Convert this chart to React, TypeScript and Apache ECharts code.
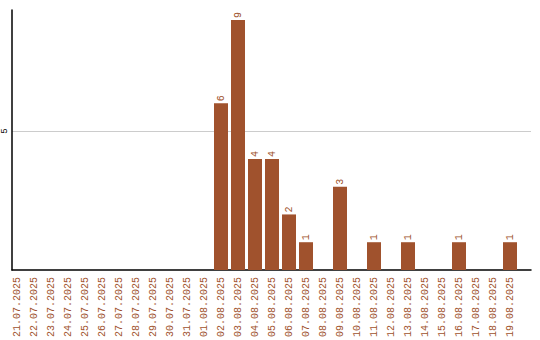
import React, { useEffect, useRef } from "react";
import * as echarts from "echarts";

const categories = [
  "21.07.2025", "22.07.2025", "23.07.2025", "24.07.2025", "25.07.2025",
  "26.07.2025", "27.07.2025", "28.07.2025", "29.07.2025", "30.07.2025",
  "31.07.2025", "01.08.2025", "02.08.2025", "03.08.2025", "04.08.2025",
  "05.08.2025", "06.08.2025", "07.08.2025", "08.08.2025", "09.08.2025",
  "10.08.2025", "11.08.2025", "12.08.2025", "13.08.2025", "14.08.2025",
  "15.08.2025", "16.08.2025", "17.08.2025", "18.08.2025", "19.08.2025",
];
const values = [
  0, 0, 0, 0, 0, 0, 0, 0, 0, 0,
  0, 0, 6, 9, 4, 4, 2, 1, 0, 3,
  0, 1, 0, 1, 0, 0, 1, 0, 0, 1,
];
const yMax = 9.36;
const yTickLabels = [5];

const BROWN = "#a0522d";
const MONO = "'Liberation Mono', monospace";

export default function App() {
  const ref = useRef<HTMLDivElement>(null);
  useEffect(() => {
    if (!ref.current) return;
    const chart = echarts.init(ref.current, null, { renderer: "svg" });
    chart.setOption({
      animation: false,
      backgroundColor: "#ffffff",
      grid: [
        { left: 8.5, right: 21.5, top: 10, bottom: 70 },
        { left: 11, right: 9, top: 10, bottom: 70 },
      ],
      xAxis: [
        {
          type: "category",
          gridIndex: 0,
          data: categories,
          axisLine: { show: false },
          axisTick: { show: false },
          axisLabel: {
            interval: 0,
            rotate: 90,
            margin: 7,
            fontSize: 10,
            fontFamily: MONO,
            color: BROWN,
          },
        },
        {
          type: "value",
          gridIndex: 1,
          min: 0,
          max: 1,
          axisLine: { show: true, onZero: false, lineStyle: { color: "#000", width: 1.5 } },
          axisTick: { show: false },
          axisLabel: { show: false },
          splitLine: { show: false },
        },
      ],
      yAxis: [
        {
          type: "value",
          gridIndex: 0,
          min: 0,
          max: yMax,
          show: false,
          splitLine: { show: false },
        },
        {
          type: "value",
          gridIndex: 1,
          min: 0,
          max: yMax,
          interval: 5,
          axisLine: { show: true, lineStyle: { color: "#000", width: 1.5 } },
          axisTick: { show: false },
          axisLabel: {
            rotate: 90,
            margin: 3,
            fontSize: 9,
            fontFamily: MONO,
            color: "#000",
            formatter: (v: number) => (yTickLabels.includes(v) ? String(v) : ""),
          },
          splitLine: {
            show: true,
            showMinLine: false,
            showMaxLine: false,
            lineStyle: { color: "#cccccc", width: 1 },
          },
        },
      ],
      series: [
        {
          type: "bar",
          xAxisIndex: 0,
          yAxisIndex: 0,
          data: values,
          barWidth: 14,
          itemStyle: { color: BROWN },
          label: {
            show: true,
            position: "top",
            rotate: 90,
            align: "left",
            verticalAlign: "middle",
            distance: 2,
            fontSize: 10,
            fontFamily: MONO,
            color: BROWN,
            formatter: (p: any) => (p.value > 0 ? String(p.value) : ""),
          },
        },
      ],
    });
    return () => chart.dispose();
  }, []);
  return (
    <div
      ref={ref}
      style={{ position: "fixed", left: 0, top: 0, width: 540, height: 340, background: "#fff" }}
    />
  );
}
